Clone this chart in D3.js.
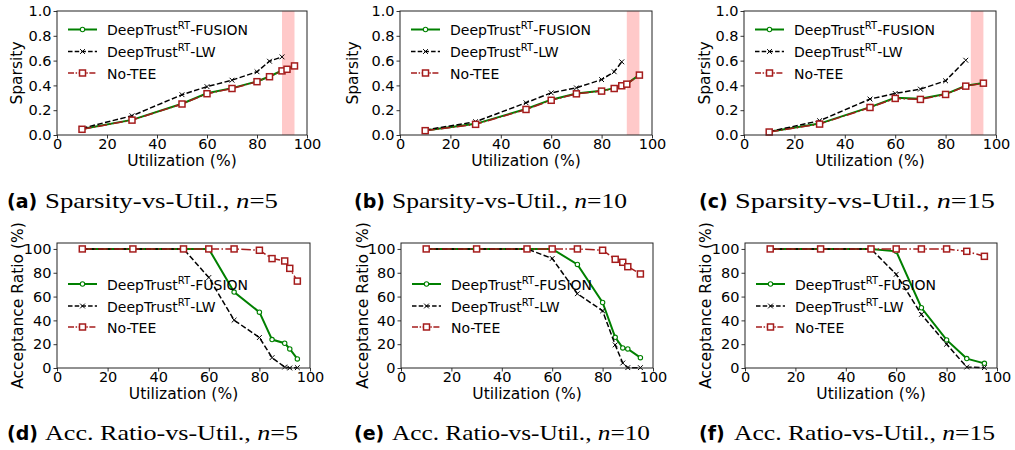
<!DOCTYPE html>
<html>
<head>
<meta charset="utf-8">
<script src="https://cdn.jsdelivr.net/npm/d3@7"></script>
<style>
  body { margin: 0; background: #fff; }
  svg text { font-family: "DejaVu Sans", sans-serif; }
</style>
</head>
<body>
<svg id="fig"></svg>
<script>
// ---- data ----
// sparsity vs utilization
const xSpA = [10, 30, 50, 60, 70, 80, 85, 90, 92, 95];
const fusionSpA = [0.048, 0.122, 0.252, 0.337, 0.378, 0.432, 0.472, 0.52, 0.532, 0.558];
const noTeeSpA = [0.046, 0.12, 0.25, 0.333, 0.375, 0.43, 0.47, 0.517, 0.53, 0.557];
const xLwSpA = [10, 30, 50, 60, 70, 80, 85, 90];
const lwSpA = [0.054, 0.155, 0.325, 0.39, 0.442, 0.51, 0.595, 0.63];

const xSpB = [10, 30, 50, 60, 70, 80, 85, 88, 90, 95];
const fusionSpB = [0.037, 0.09, 0.21, 0.285, 0.335, 0.356, 0.378, 0.4, 0.412, 0.485];
const noTeeSpB = [0.035, 0.086, 0.206, 0.28, 0.332, 0.354, 0.375, 0.397, 0.41, 0.483];
const xLwSpB = [10, 30, 50, 60, 70, 80, 85, 88];
const lwSpB = [0.04, 0.107, 0.26, 0.34, 0.38, 0.447, 0.51, 0.59];

const xSpC = [10, 30, 50, 60, 70, 80, 88, 95];
const fusionSpC = [0.026, 0.092, 0.225, 0.3, 0.293, 0.33, 0.397, 0.42];
const noTeeSpC = [0.024, 0.088, 0.222, 0.295, 0.287, 0.327, 0.394, 0.418];
const xLwSpC = [10, 30, 50, 60, 70, 80, 88];
const lwSpC = [0.027, 0.115, 0.29, 0.335, 0.37, 0.437, 0.603];

// acceptance ratio vs utilization
const xArD = [10, 30, 50, 60, 70, 80, 85, 90, 92, 95];
const fusionArD = [100, 100, 100, 100, 63.8, 46.9, 23.9, 20.8, 16, 7.6];
const lwArD = [100, 100, 100, 76, 40.2, 25.6, 8.7, 0.8, 0, 0.3];
const noTeeArD = [100, 100, 100, 100, 100, 98.9, 91.9, 89.9, 83.7, 73];

const xArE = [10, 30, 50, 60, 70, 80, 85, 88, 90, 95];
const fusionArE = [100, 100, 100, 100, 87, 55, 25.8, 16.9, 16, 8.7];
const lwArE = [100, 100, 100, 92, 62.4, 48, 19.4, 4.2, 0.3, 0.3];
const noTeeArE = [100, 100, 100, 100, 100, 98.9, 91.3, 88.8, 85.1, 79];

const xArF = [10, 30, 50, 60, 70, 80, 88, 95];
const fusionArF = [100, 100, 100, 98, 50.6, 23.6, 7.9, 3.9];
const lwArF = [100, 100, 100, 78.7, 45, 20, 0.8, 0.3];
const noTeeArF = [100, 100, 100, 100, 100, 100, 98, 93.8];

const xTicks = [0, 20, 40, 60, 80, 100];
const spTicks = [0, 0.2, 0.4, 0.6, 0.8, 1.0];
const arTicks = [0, 20, 40, 60, 80, 100];
const deadline = [90, 95]; // shaded region on sparsity plots

const seriesNames = ["FUSION", "LW", "No-TEE"];
const captions = [
  ["(a)", "Sparsity-vs-Util., ", "n", "=5"],
  ["(b)", "Sparsity-vs-Util., ", "n", "=10"],
  ["(c)", "Sparsity-vs-Util., ", "n", "=15"],
  ["(d)", "Acc. Ratio-vs-Util., ", "n", "=5"],
  ["(e)", "Acc. Ratio-vs-Util., ", "n", "=10"],
  ["(f)", "Acc. Ratio-vs-Util., ", "n", "=15"]
];

// ---- layout ----
const W = 1015, H = 450;
const svg = d3.select("#fig").attr("width", W).attr("height", H);

const GREEN = "#008000", RED = "#a51c1c";

const panels = [
  { left: 57,  right: 307, top: 11,  bottom: 135, kind: "sp", ylab: 35, cap: [7, 45, 278, 208],
    x: xSpA, fusion: fusionSpA, noTee: noTeeSpA, xLw: xLwSpA, lw: lwSpA },
  { left: 400, right: 652, top: 11,  bottom: 135, kind: "sp", ylab: 42, cap: [354, 392, 627, 208],
    x: xSpB, fusion: fusionSpB, noTee: noTeeSpB, xLw: xLwSpB, lw: lwSpB },
  { left: 744, right: 996, top: 11,  bottom: 135, kind: "sp", ylab: 34, cap: [699, 735, 995, 208],
    x: xSpC, fusion: fusionSpC, noTee: noTeeSpC, xLw: xLwSpC, lw: lwSpC },
  { left: 57,  right: 310, top: 243, bottom: 368, kind: "ar", ylab: 34, cap: [7, 45, 298, 440],
    x: xArD, fusion: fusionArD, noTee: noTeeArD, xLw: xArD, lw: lwArD },
  { left: 401, right: 653, top: 243, bottom: 368, kind: "ar", ylab: 33, cap: [354, 392, 650, 440],
    x: xArE, fusion: fusionArE, noTee: noTeeArE, xLw: xArE, lw: lwArE },
  { left: 745, right: 997, top: 243, bottom: 368, kind: "ar", ylab: 34, cap: [699, 734, 995, 440],
    x: xArF, fusion: fusionArF, noTee: noTeeArF, xLw: xArF, lw: lwArF }
];

function drawMarker(g, type, cx, cy) {
  if (type === "FUSION") {
    g.append("circle").attr("cx", cx).attr("cy", cy).attr("r", 2.2)
      .attr("fill", "#fff").attr("stroke", GREEN).attr("stroke-width", 1.1);
  } else if (type === "No-TEE") {
    g.append("rect").attr("x", cx - 3).attr("y", cy - 3).attr("width", 6).attr("height", 6)
      .attr("fill", "#fff").attr("stroke", RED).attr("stroke-width", 1.5);
  } else {
    const s = 2.4;
    g.append("path").attr("d", `M${cx - s},${cy - s}L${cx + s},${cy + s}M${cx - s},${cy + s}L${cx + s},${cy - s}`)
      .attr("stroke", "#000").attr("stroke-width", 1).attr("fill", "none");
  }
}

const style = {
  "FUSION": { color: GREEN, width: 2, dash: null },
  "LW": { color: "#000", width: 1.5, dash: "5.5,2.4" },
  "No-TEE": { color: RED, width: 1.5, dash: "9.6,2.4,1.5,2.4" }
};

panels.forEach(function (p, i) {
  const xScale = d3.scaleLinear().domain([0, 100]).range([p.left, p.right]);
  const yScale = p.kind === "sp"
    ? d3.scaleLinear().domain([0, 1]).range([p.bottom, p.top])
    : d3.scaleLinear().domain([0, 105]).range([p.bottom, p.top]);

  const g = svg.append("g");

  if (p.kind === "sp") {
    g.append("rect")
      .attr("x", xScale(deadline[0])).attr("y", p.top)
      .attr("width", xScale(deadline[1]) - xScale(deadline[0]))
      .attr("height", p.bottom - p.top)
      .attr("fill", "#ffc9c9");
  }

  const sets = {
    "FUSION": p.x.map((v, k) => [v, p.fusion[k]]),
    "LW": p.xLw.map((v, k) => [v, p.lw[k]]),
    "No-TEE": p.x.map((v, k) => [v, p.noTee[k]])
  };
  const line = d3.line().x(d => xScale(d[0])).y(d => yScale(d[1]));

  seriesNames.forEach(function (name) {
    const st = style[name];
    g.append("path").datum(sets[name])
      .attr("d", line).attr("fill", "none")
      .attr("stroke", st.color).attr("stroke-width", st.width)
      .attr("stroke-dasharray", st.dash);
    sets[name].forEach(d => drawMarker(g, name, xScale(d[0]), yScale(d[1])));
  });

  // axes
  const xAxis = g.append("g").attr("transform", `translate(0,${p.bottom})`)
    .call(d3.axisBottom(xScale).tickValues(xTicks).tickSize(3.5).tickPadding(0.5).tickFormat(d3.format("d")));
  const yAxis = g.append("g").attr("transform", `translate(${p.left},0)`)
    .call(d3.axisLeft(yScale).tickValues(p.kind === "sp" ? spTicks : arTicks).tickSize(3.5).tickPadding(2)
      .tickFormat(p.kind === "sp" ? d3.format(".1f") : d3.format("d")));
  [xAxis, yAxis].forEach(a => {
    a.select(".domain").remove();
    a.selectAll("line").attr("stroke", "#000").attr("stroke-width", 0.8);
    a.selectAll("text").style("font-size", "14.5px").attr("fill", "#000")
      .style("font-family", "DejaVu Sans");
  });
  g.append("rect").attr("x", p.left).attr("y", p.top)
    .attr("width", p.right - p.left).attr("height", p.bottom - p.top)
    .attr("fill", "none").attr("stroke", "#222").attr("stroke-width", 1);

  // axis labels
  g.append("text")
    .attr("x", (p.left + p.right) / 2).attr("y", p.bottom + 31)
    .attr("text-anchor", "middle").style("font-size", "15.5px")
    .text("Utilization (%)");
  g.append("text")
    .attr("transform", `translate(${p.left - p.ylab},${(p.top + p.bottom) / 2}) rotate(-90)`)
    .attr("text-anchor", "middle").style("font-size", "15.5px")
    .text(p.kind === "sp" ? "Sparsity" : "Acceptance Ratio (%)");

  // legend
  const rows = p.kind === "sp" ? [18.5, 40.5, 62] : [41, 63, 84];
  seriesNames.forEach(function (name, k) {
    const st = style[name];
    const ly = p.top + rows[k];
    g.append("line")
      .attr("x1", p.left + 11).attr("x2", p.left + 40).attr("y1", ly).attr("y2", ly)
      .attr("stroke", st.color).attr("stroke-width", st.width)
      .attr("stroke-dasharray", name === "No-TEE" ? "6,1.6,1.5,1.6" : (name === "LW" ? "4.5,2.2" : null));
    drawMarker(g, name, p.left + 25.5, ly);
    const t = g.append("text").attr("x", p.left + 50).attr("y", ly + 5.5).style("font-size", "14px");
    if (name === "No-TEE") {
      t.text("No-TEE");
    } else {
      t.append("tspan").text("DeepTrust");
      t.append("tspan").style("font-size", "10px").attr("dy", -6).text("RT");
      t.append("tspan").attr("dy", 6).text("-" + name);
    }
  });

  // caption
  const c = captions[i];
  svg.append("text").attr("x", p.cap[0]).attr("y", p.cap[3])
    .style("font-size", "19px").attr("font-weight", "bold").text(c[0]);
  const ct = svg.append("text").attr("x", p.cap[1]).attr("y", p.cap[3])
    .style("font-size", "21px")
    .style("font-family", "'Liberation Serif', 'DejaVu Serif', serif")
    .attr("textLength", p.cap[2] - p.cap[1]).attr("lengthAdjust", "spacingAndGlyphs");
  ct.append("tspan").text(c[1]);
  ct.append("tspan").attr("font-style", "italic").text(c[2]);
  ct.append("tspan").text(c[3]);
});
</script>
</body>
</html>
